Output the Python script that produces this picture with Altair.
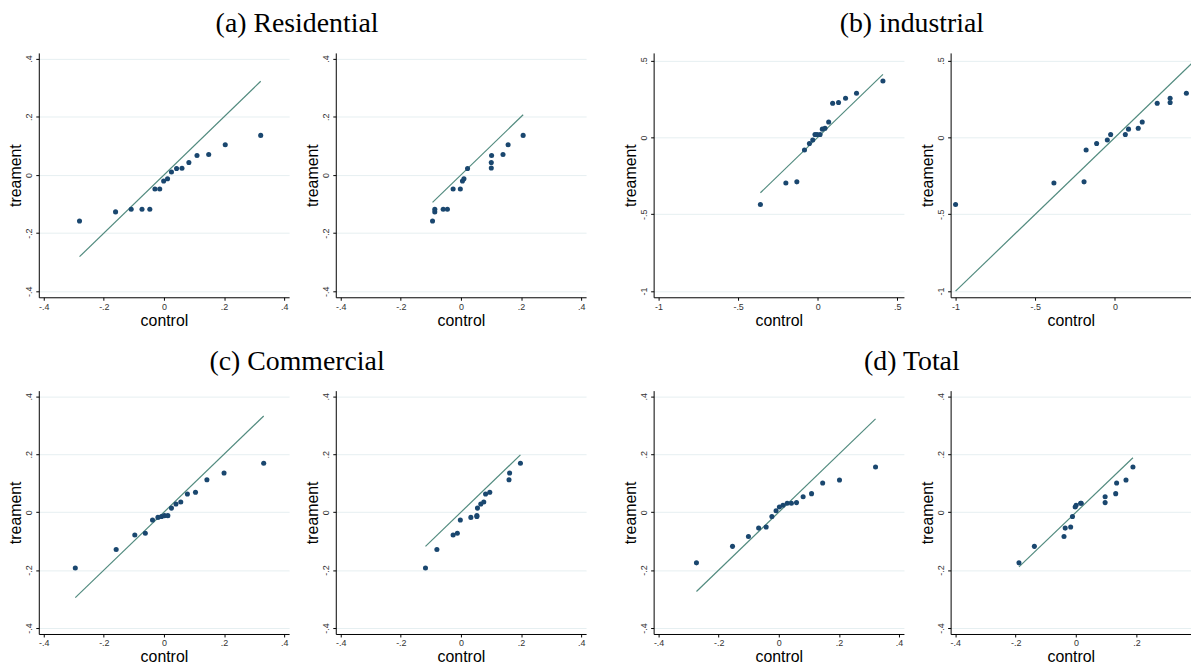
import altair as alt
import pandas as pd

# ---------------- data ----------------
# (a) Residential
res_l_control = [-0.281, -0.161, -0.109, -0.073, -0.047, -0.030, -0.014, -0.001, 0.012, 0.025,
                 0.042, 0.060, 0.083, 0.110, 0.149, 0.204, 0.322]
res_l_treat = [-0.158, -0.127, -0.118, -0.118, -0.118, -0.048, -0.048, -0.021, -0.013, 0.010,
               0.022, 0.023, 0.043, 0.067, 0.070, 0.104, 0.136]
res_r_control = [-0.0945, -0.087, -0.087, -0.059, -0.045, -0.026, -0.002, 0.005, 0.010, 0.022,
                 0.101, 0.101, 0.102, 0.140, 0.157, 0.207]
res_r_treat = [-0.158, -0.127, -0.118, -0.118, -0.118, -0.048, -0.048, -0.021, -0.013, 0.022,
               0.024, 0.043, 0.067, 0.070, 0.104, 0.136]

# (b) industrial
ind_l_control = [-0.360, -0.200, -0.131, -0.083, -0.052, -0.031, -0.017, -0.004, 0.015, 0.029,
                 0.046, 0.069, 0.094, 0.131, 0.175, 0.244, 0.410]
ind_l_treat = [-0.436, -0.296, -0.289, -0.082, -0.039, -0.017, 0.019, 0.019, 0.019, 0.054,
               0.060, 0.101, 0.222, 0.227, 0.255, 0.287, 0.367]
ind_r_control = [-1.0, -0.383, -0.194, -0.181, -0.115, -0.048, -0.027, 0.065, 0.085, 0.146,
                 0.171, 0.265, 0.346, 0.346, 0.448, 0.50]
ind_r_treat = [-0.436, -0.296, -0.289, -0.082, -0.039, -0.017, 0.019, 0.019, 0.054, 0.060,
               0.101, 0.222, 0.227, 0.255, 0.287, 0.367]

# (c) Commercial
com_l_control = [-0.295, -0.159, -0.097, -0.062, -0.038, -0.020, -0.008, 0.002, 0.013, 0.025,
                 0.040, 0.056, 0.078, 0.105, 0.143, 0.200, 0.332]
com_l_treat = [-0.193, -0.129, -0.079, -0.073, -0.027, -0.018, -0.015, -0.012, -0.012, 0.014,
               0.028, 0.035, 0.063, 0.069, 0.112, 0.135, 0.169]
com_r_control = [-0.118, -0.080, -0.026, -0.012, -0.002, 0.033, 0.053, 0.053, 0.055, 0.066,
                 0.076, 0.082, 0.096, 0.160, 0.162, 0.198]
com_r_treat = [-0.193, -0.129, -0.079, -0.073, -0.027, -0.018, -0.015, -0.012, 0.014, 0.028,
               0.035, 0.063, 0.069, 0.112, 0.135, 0.169]

# (d) Total
tot_l_control = [-0.274, -0.154, -0.101, -0.067, -0.042, -0.023, -0.009, 0.002, 0.014, 0.028,
                 0.042, 0.059, 0.081, 0.109, 0.146, 0.202, 0.322]
tot_l_treat = [-0.175, -0.118, -0.084, -0.055, -0.051, -0.015, 0.005, 0.018, 0.024, 0.031,
               0.031, 0.033, 0.053, 0.064, 0.101, 0.111, 0.156]
tot_r_control = [-0.189, -0.138, -0.040, -0.036, -0.018, -0.012, -0.003, 0.000, 0.015, 0.017,
                 0.096, 0.096, 0.131, 0.134, 0.165, 0.188]
tot_r_treat = [-0.175, -0.118, -0.084, -0.055, -0.051, -0.015, 0.018, 0.024, 0.031, 0.031,
               0.033, 0.053, 0.064, 0.101, 0.111, 0.156]

titles = ["(a) Residential", "(b) industrial", "(c) Commercial", "(d) Total"]

ticks_04 = [-0.4, -0.2, 0, 0.2, 0.4]
ticks_10 = [-1, -0.5, 0, 0.5]

# ---------------- style ----------------
PT_COLOR = "#1a476f"
LINE_COLOR = "#528b7f"
LABEL_EXPR = "(datum.value < 0 ? '-' : '') + replace(format(abs(datum.value), '~g'), '0.', '.')"


def panel(xv, yv, xdom, ydom, xticks, yticks, width, height, clip=False):
    df = pd.DataFrame({"control": xv, "treament": yv})
    lo, hi = min(xv), max(xv)
    ldf = pd.DataFrame({"control": [lo, hi], "treament": [lo, hi]})
    xs = alt.Scale(domain=xdom, nice=False, zero=False)
    ys = alt.Scale(domain=ydom, nice=False, zero=False)
    xa = alt.Axis(values=xticks, labelExpr=LABEL_EXPR, grid=False, title="control")
    ya = alt.Axis(values=yticks, labelExpr=LABEL_EXPR, grid=True, title="treament")
    enc = dict(x=alt.X("control:Q", scale=xs, axis=xa), y=alt.Y("treament:Q", scale=ys, axis=ya))
    line = alt.Chart(ldf).mark_line(color=LINE_COLOR, strokeWidth=1.2, clip=clip).encode(**enc)
    pts = alt.Chart(df).mark_circle(color=PT_COLOR, size=26, opacity=1, clip=clip).encode(**enc)
    return alt.layer(line, pts).properties(width=width, height=height)


W, WC = 252, 242
H1, H2 = 246, 245
d04 = [-0.4165, 0.4165]
y04 = [-0.4205, 0.4195]
d10 = [-1.031, 0.542]
y10 = [-1.040, 0.550]

p1 = panel(res_l_control, res_l_treat, d04, y04, ticks_04, ticks_04, W, H1)
p2 = panel(res_r_control, res_r_treat, d04, y04, ticks_04, ticks_04, W, H1)
p3 = panel(ind_l_control, ind_l_treat, d10, y10, ticks_10, ticks_10, W, H1)
p4 = panel(ind_r_control, ind_r_treat, [-1.031, 0.477], y10, [-1, -0.5, 0], ticks_10, WC, H1, clip=True)
p5 = panel(com_l_control, com_l_treat, d04, y04, ticks_04, ticks_04, W, H2)
p6 = panel(com_r_control, com_r_treat, d04, y04, ticks_04, ticks_04, W, H2)
p7 = panel(tot_l_control, tot_l_treat, d04, y04, ticks_04, ticks_04, W, H2)
p8 = panel(tot_r_control, tot_r_treat, [-0.415, 0.380], y04, [-0.4, -0.2, 0, 0.2], ticks_04, WC, H2, clip=True)


def ttl(text, dx=0):
    return alt.TitleParams(text, font="Liberation Serif", fontSize=28, fontWeight="normal",
                           color="#000000", anchor="middle", offset=15, dx=dx)


pairA = alt.hconcat(p1, p2, spacing=16, title=ttl(titles[0]))
pairB = alt.hconcat(p3, p4, spacing=16, title=ttl(titles[1], dx=5))
pairC = alt.hconcat(p5, p6, spacing=16, title=ttl(titles[2]))
pairD = alt.hconcat(p7, p8, spacing=16, title=ttl(titles[3], dx=5))

row1 = alt.hconcat(pairA, pairB, spacing=37)
row2 = alt.hconcat(pairC, pairD, spacing=37)

chart = (
    alt.vconcat(row1, row2, spacing=20)
    .properties(padding=0, background="white")
    .configure_view(stroke=None)
    .configure_axis(
        domainColor="#000000", domainWidth=1, tickColor="#000000", tickSize=3, tickWidth=1,
        labelFont="Liberation Sans", labelFontSize=9, labelColor="#333333",
        titleFont="Liberation Sans", titleFontSize=16, titleFontWeight="normal", titleColor="#000000",
        gridColor="#e6eff1", gridWidth=1,
    )
    .configure_axisY(labelAngle=270, labelAlign="center", labelBaseline="bottom", labelPadding=2, titlePadding=1)
    .configure_axisX(labelPadding=2, titlePadding=1)
)

chart.save("out.html", embed_options={"renderer": "svg", "actions": False})
